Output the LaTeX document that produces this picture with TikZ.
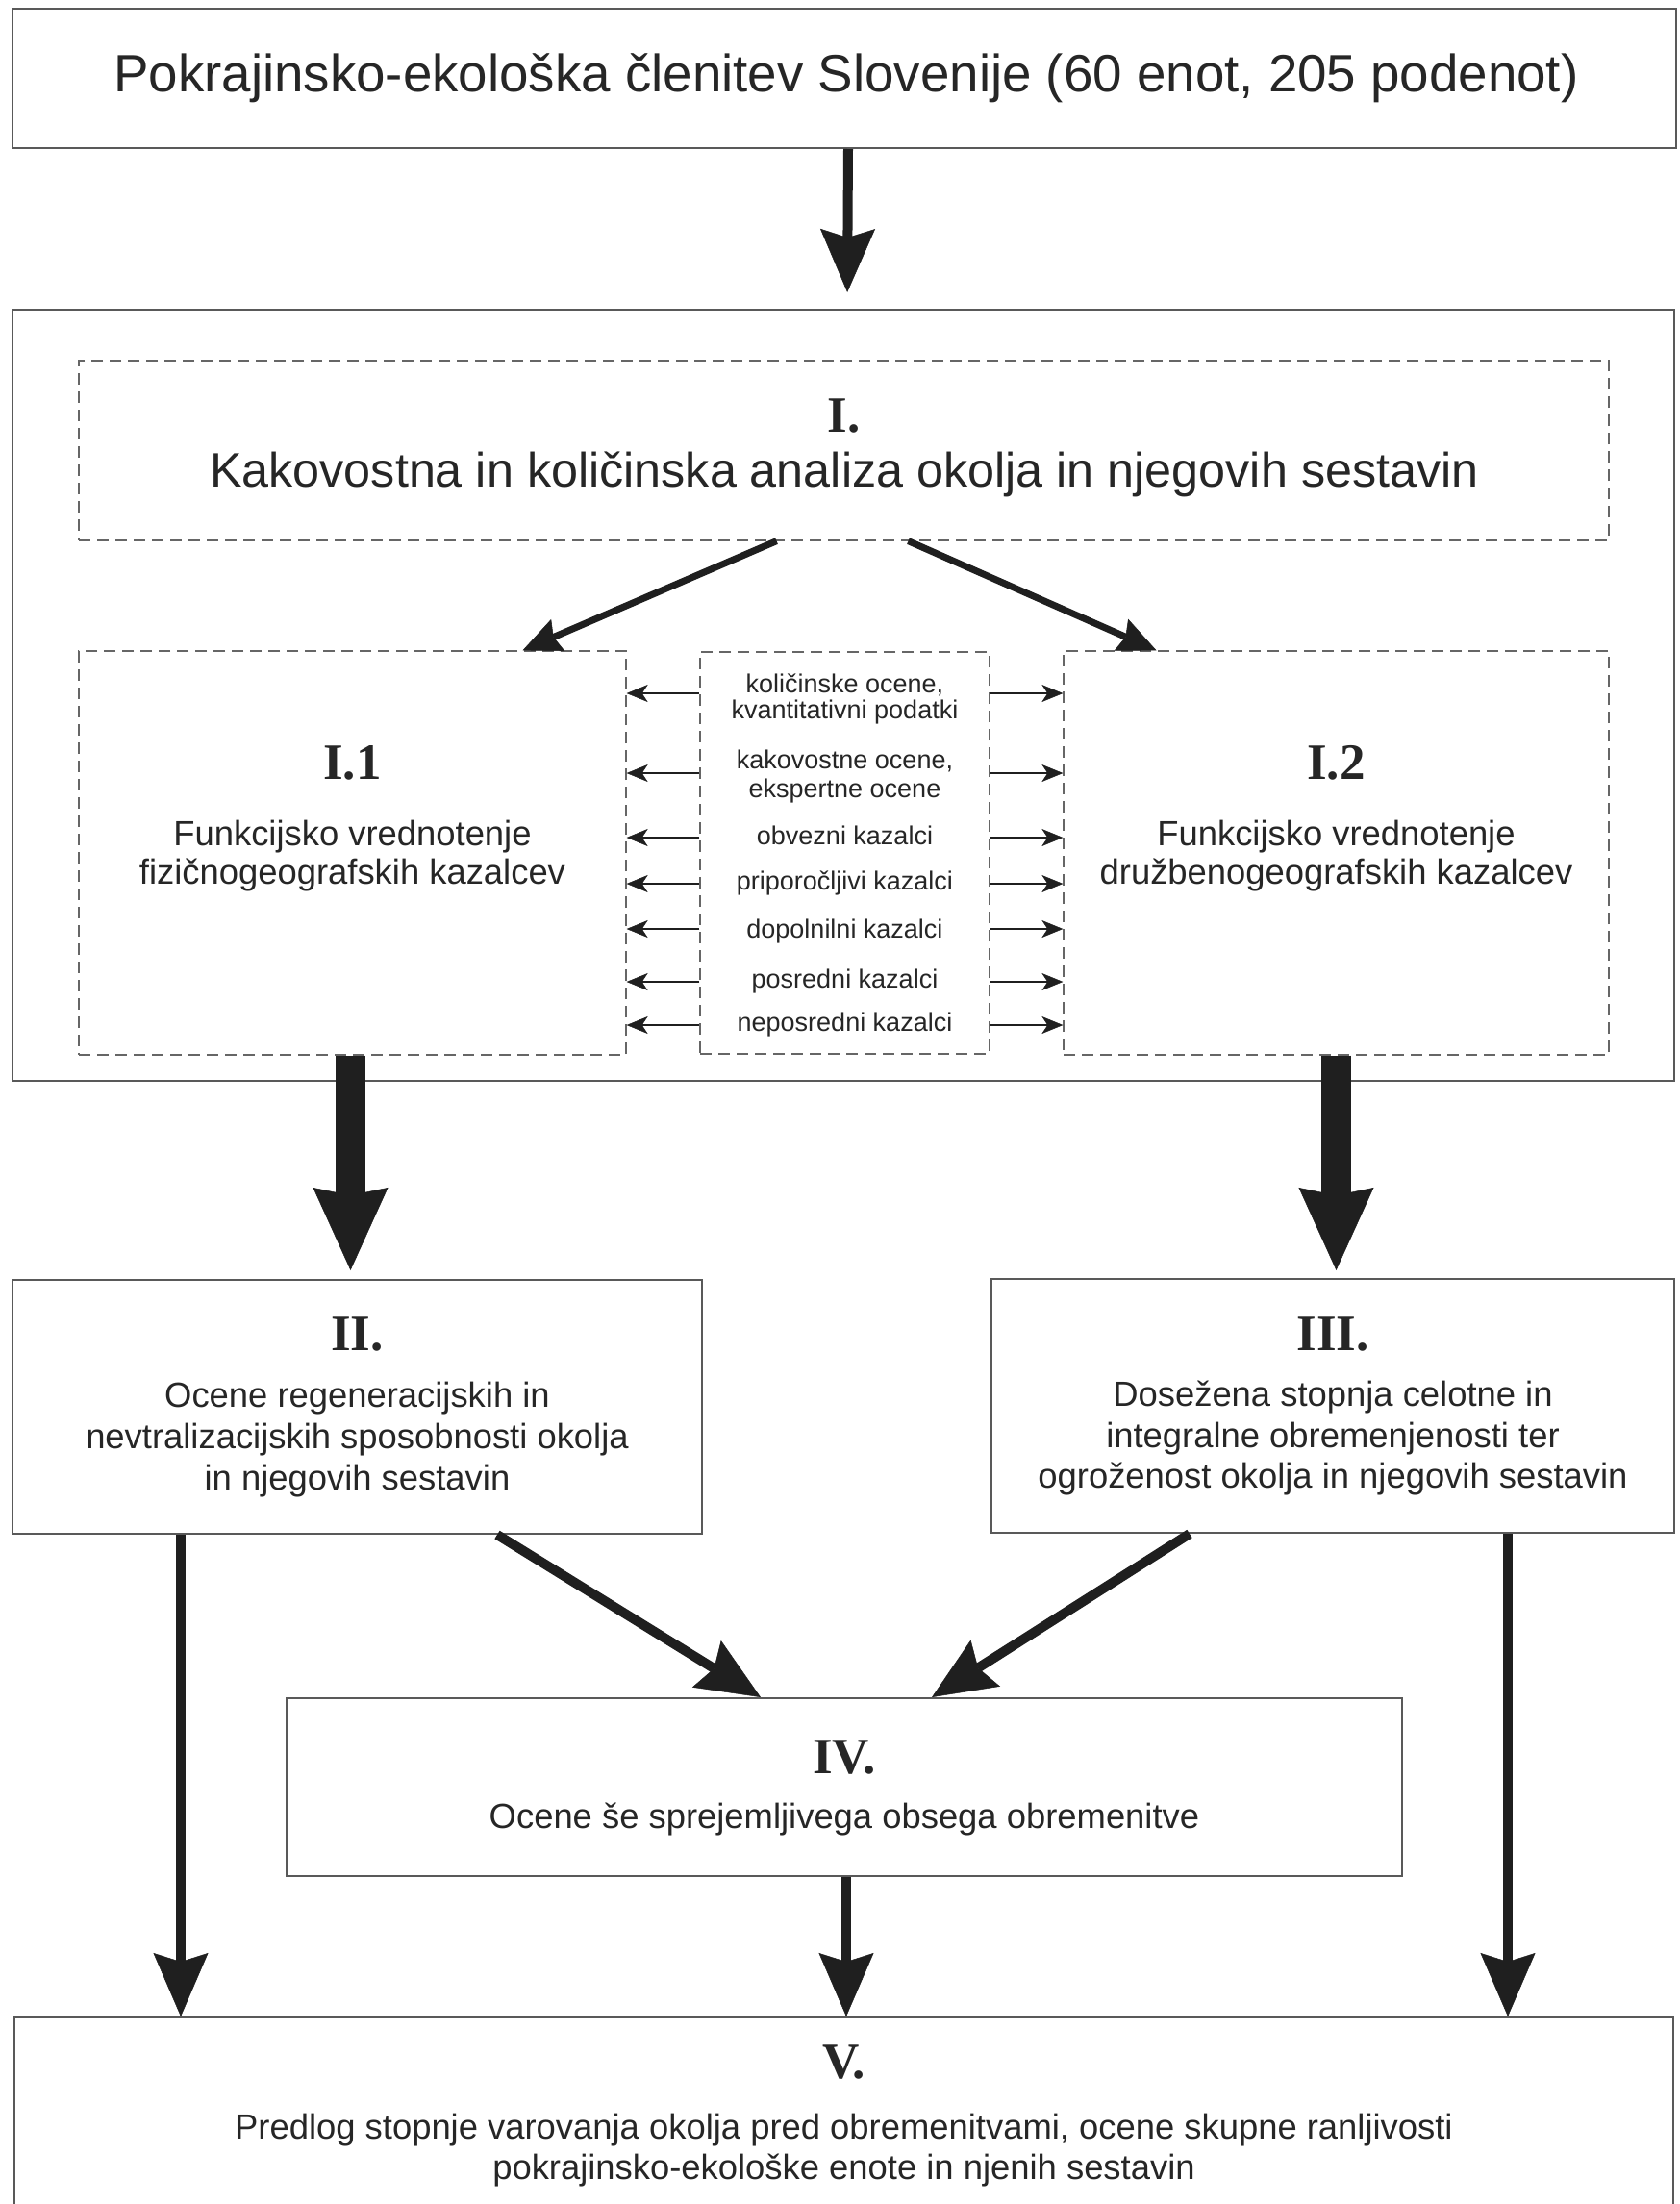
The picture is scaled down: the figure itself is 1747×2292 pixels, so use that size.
\documentclass[tikz,border=0pt]{standalone}
\usepackage{fontspec}
\setmainfont{Liberation Sans}
\newfontfamily\numfont{Liberation Serif}
\usetikzlibrary{arrows.meta}
\definecolor{boxcol}{gray}{0.35}
\definecolor{dashcol}{gray}{0.40}
\definecolor{arrcol}{gray}{0.12}
\begin{document}
\begin{tikzpicture}[x=1pt,y=-1pt,
  solidbox/.style={draw=boxcol, line width=2pt, inner sep=0pt, fill=none},
  dashbox/.style={draw=dashcol, line width=1.3pt, dash pattern=on 12pt off 7pt, inner sep=0pt},
  txt/.style={anchor=base, inner sep=0pt, text=black!85},
  titlef/.style={txt, font={\fontsize{54.7}{60}\selectfont}},
  headf/.style={txt, font={\fontsize{50.3}{56}\selectfont}},
  bodyf/.style={txt, font={\fontsize{36.4}{42}\selectfont}},
  smallf/.style={txt, font={\fontsize{27}{30}\selectfont}},
  numf/.style={txt, font={\numfont\bfseries\fontsize{53}{58}\selectfont}},
  thickarrow/.style={draw=arrcol, line width=31pt,
    -{Stealth[length=86pt, width=78pt, inset=8pt, line width=0.5pt, fill=arrcol]}},
  medarrow/.style={draw=arrcol, line width=10pt,
    -{Stealth[length=66pt, width=57pt, inset=9pt, line width=0.5pt, fill=arrcol]}},
  diagarrow/.style={draw=arrcol, line width=7pt,
    -{Stealth[length=40pt, width=36pt, inset=5pt, line width=0.5pt, fill=arrcol]}},
  smallarrow/.style={draw=arrcol, line width=2.5pt,
    -{Stealth[length=22pt, width=18pt, inset=6pt, line width=0.5pt, fill=arrcol]}}
]
\useasboundingbox (0,0) rectangle (1747,2292);
\fill[white] (0,0) rectangle (1747,2292);

% ---------- boxes ----------
\node[solidbox, minimum width=1730pt, minimum height=145pt] (top) at (878,81.5) {};
\node[solidbox, minimum width=1728pt, minimum height=802pt] (outer) at (877,723) {};
\node[dashbox, minimum width=1591pt, minimum height=187pt] (boxI) at (877.5,468.5) {};
\node[dashbox, minimum width=569pt, minimum height=420pt] (boxIa) at (366.5,887) {};
\node[dashbox, minimum width=301pt, minimum height=418pt] (mid) at (878.5,887) {};
\node[dashbox, minimum width=567pt, minimum height=420pt] (boxIb) at (1389.5,887) {};
\node[solidbox, minimum width=717pt, minimum height=264pt] (II) at (371.5,1463) {};
\node[solidbox, minimum width=710pt, minimum height=264pt] (III) at (1386,1462) {};
\node[solidbox, minimum width=1160pt, minimum height=185pt] (IV) at (878,1858.5) {};
\node[solidbox, minimum width=1725pt, minimum height=198pt] (V) at (877.5,2197) {};

% ---------- texts ----------
\node[titlef] (ttop) at (880,95) {Pokrajinsko-ekološka členitev Slovenije (60 enot, 205 podenot)};

\node[numf] (nI) at (877.5,449) {I.};
\node[headf] (tI) at (878,506) {Kakovostna in količinska analiza okolja in njegovih sestavin};

\node[numf] (nIa) at (366.5,810) {I.1};
\node[bodyf] (tIa1) at (366.5,879) {Funkcijsko vrednotenje};
\node[bodyf] (tIa2) at (366.5,919) {fizičnogeografskih kazalcev};

\node[numf] (nIb) at (1389.5,810) {I.2};
\node[bodyf] (tIb1) at (1389.5,879) {Funkcijsko vrednotenje};
\node[bodyf] (tIb2) at (1389.5,919) {družbenogeografskih kazalcev};

\node[smallf] (m1a) at (878.5,720) {količinske ocene,};
\node[smallf] (m1b) at (878.5,747) {kvantitativni podatki};
\node[smallf] (m2a) at (878.5,799) {kakovostne ocene,};
\node[smallf] (m2b) at (878.5,829) {ekspertne ocene};
\node[smallf] (m3) at (878.5,878) {obvezni kazalci};
\node[smallf] (m4) at (878.5,925) {priporočljivi kazalci};
\node[smallf] (m5) at (878.5,975) {dopolnilni kazalci};
\node[smallf] (m6) at (878.5,1027) {posredni kazalci};
\node[smallf] (m7) at (878.5,1072) {neposredni kazalci};

\node[numf] (nII) at (371.5,1404) {II.};
\node[bodyf] (tII1) at (371.5,1463) {Ocene regeneracijskih in};
\node[bodyf] (tII2) at (371.5,1506) {nevtralizacijskih sposobnosti okolja};
\node[bodyf] (tII3) at (371.5,1549) {in njegovih sestavin};

\node[numf] (nIII) at (1386,1404) {III.};
\node[bodyf] (tIII1) at (1386,1462) {Dosežena stopnja celotne in};
\node[bodyf] (tIII2) at (1386,1505) {integralne obremenjenosti ter};
\node[bodyf] (tIII3) at (1386,1547) {ogroženost okolja in njegovih sestavin};

\node[numf] (nIV) at (878,1844) {IV.};
\node[bodyf] (tIV) at (878,1901) {Ocene še sprejemljivega obsega obremenitve};

\node[numf] (nV) at (877.5,2161) {V.};
\node[bodyf] (tV1) at (877.5,2224) {Predlog stopnje varovanja okolja pred obremenitvami, ocene skupne ranljivosti};
\node[bodyf] (tV2) at (877.5,2266) {pokrajinsko-ekološke enote in njenih sestavin};

% ---------- row coordinates for the middle arrows ----------
\coordinate (r1) at (878,721);
\coordinate (r2) at (878,804);
\coordinate (r3) at (878,871);
\coordinate (r4) at (878,919);
\coordinate (r5) at (878,966);
\coordinate (r6) at (878,1021);
\coordinate (r7) at (878,1066);

% ---------- connectors ----------
\draw[medarrow, shorten >=17pt] ([xshift=4pt]top.south) -- ([xshift=4pt]outer.north);

\draw[diagarrow] ([xshift=-70pt]boxI.south) -- ([xshift=177pt]boxIa.north);
\draw[diagarrow] ([xshift=67pt]boxI.south) -- ([xshift=-187pt]boxIb.north);

\foreach \r in {r1,r2,r3,r4,r5,r6,r7}{
  \draw[smallarrow] (mid.west |- \r) -- (boxIa.east |- \r);
  \draw[smallarrow] (mid.east |- \r) -- (boxIb.west |- \r);
}

\draw[thickarrow, shorten >=9pt] ([xshift=-2pt]boxIa.south) -- ([xshift=-2pt]boxIa.south |- II.north);
\draw[thickarrow, shorten >=8pt] (boxIb.south) -- (boxIb.south |- III.north);

\draw[medarrow] ([xshift=-183.5pt]II.south) -- ([xshift=-183.5pt]II.south |- V.north);
\draw[medarrow] ([xshift=182pt]III.south) -- ([xshift=182pt]III.south |- V.north);
\draw[medarrow] ([xshift=145.5pt]II.south) -- ([xshift=-87pt]IV.north);
\draw[medarrow] ([xshift=-149pt]III.south) -- ([xshift=91pt]IV.north);
\draw[medarrow] ([xshift=2pt]IV.south) -- ([xshift=2pt]IV.south |- V.north);
\end{tikzpicture}
\end{document}
